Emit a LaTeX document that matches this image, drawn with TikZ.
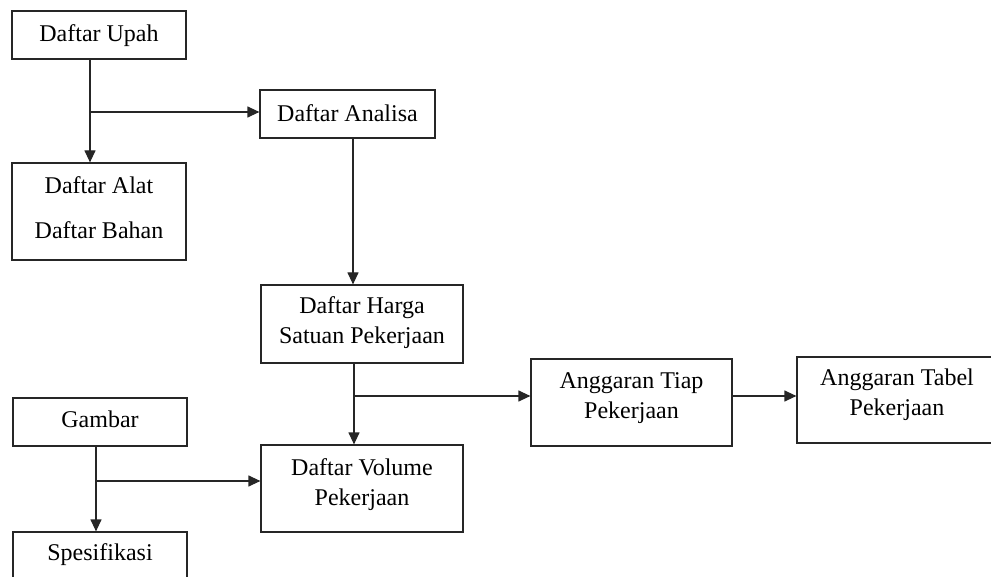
\documentclass[tikz,border=0pt]{standalone}
\usepackage{fontspec}
\setmainfont{Liberation Serif}
\usetikzlibrary{arrows.meta}
\begin{document}
\begin{tikzpicture}[x=1pt,y=-1pt,
  box/.style={draw=black!85, line width=1.2pt, inner sep=0pt, rectangle},
  txt/.style={inner sep=0pt, align=center, font=\fontsize{24}{30}\selectfont},
  arr/.style={draw=black!85, line width=1.2pt, -{Triangle[length=12pt,width=11pt]}}]
\useasboundingbox (0,0) rectangle (991,577);
\clip (0,0) rectangle (991,577);

% boxes
\node[box, minimum width=174pt, minimum height=48pt] (upah) at (99,35) {};
\node[box, minimum width=174pt, minimum height=97pt] (alat) at (99,211.5) {};
\node[box, minimum width=175pt, minimum height=48pt] (analisa) at (347.5,114) {};
\node[box, minimum width=202pt, minimum height=78pt] (harga) at (362,324) {};
\node[box, minimum width=174pt, minimum height=48pt] (gambar) at (100,422) {};
\node[box, minimum width=202pt, minimum height=87pt] (volume) at (362,488.5) {};
\node[box, minimum width=174pt, minimum height=88pt] (spes) at (100,576) {};
\node[box, minimum width=201pt, minimum height=87pt] (tiap) at (631.5,402.5) {};
\node[box, minimum width=200pt, minimum height=86pt] (tabel) at (897,400) {};

% labels
\node[txt] (upah-t) at (99,36) {Daftar Upah};
\node[txt, font=\fontsize{24}{45}\selectfont] (alat-t) at (99,208) {Daftar Alat\\Daftar Bahan};
\node[txt] (analisa-t) at (347.5,113) {Daftar Analisa};
\node[txt] (harga-t) at (362,323) {Daftar Harga\\Satuan Pekerjaan};
\node[txt] (gambar-t) at (100,419) {Gambar};
\node[txt] (volume-t) at (362,485) {Daftar Volume\\Pekerjaan};
\node[txt] (spes-t) at (100,555) {Spesifikasi};
\node[txt] (tiap-t) at (631.5,398) {Anggaran Tiap\\Pekerjaan};
\node[txt] (tabel-t) at (897,395) {Anggaran Tabel\\Pekerjaan};

% branch points
\coordinate (j1) at (90,112);
\coordinate (j3) at (354,396);
\coordinate (j4) at (96,481);

% connectors
\draw[arr] ([xshift=-9pt]upah.south) -- ([xshift=-9pt]alat.north);
\draw[arr] (j1) -- (j1 -| analisa.west);
\draw[arr] ([xshift=5.5pt]analisa.south) -- ([xshift=-9pt]harga.north);
\draw[arr] ([xshift=-8pt]harga.south) -- ([xshift=-8pt]volume.north);
\draw[arr] (j3) -- (j3 -| tiap.west);
\draw[arr] (tiap.east |- j3) -- (tabel.west |- j3);
\draw[arr] ([xshift=-4pt]gambar.south) -- ([xshift=-4pt]spes.north);
\draw[arr] (j4) -- (j4 -| volume.west);
\end{tikzpicture}
\end{document}
